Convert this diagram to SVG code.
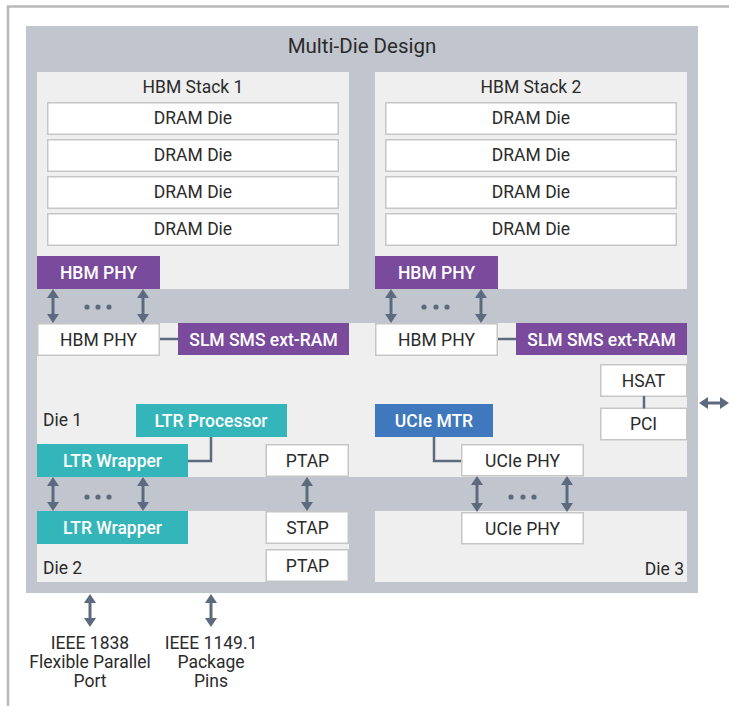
<svg xmlns="http://www.w3.org/2000/svg" width="729" height="706" viewBox="0 0 729 706">
  <style>
    text { font-family: Roboto, "Liberation Sans", sans-serif; fill: #2b2b2b; font-size: 17.5px; }
    .title { font-size: 20.5px; }
    .ctr { text-anchor: middle; }
    .inv { fill: #ffffff; font-weight: 500; text-anchor: middle; }
    .die { fill: #efefef; }
    .box { fill: #ffffff; stroke: #c6c6c6; stroke-width: 1.5; }
    .purple { fill: #7a4a9c; }
    .teal { fill: #33b5b9; }
    .blue { fill: #3f78bd; }
    .wire { fill: none; stroke: #5d6a7e; stroke-width: 2.5; }
    .arrow { fill: none; stroke: #5d6a7e; stroke-width: 3; marker-start: url(#head); marker-end: url(#head); }
    .dot { fill: #5d6a7e; }
  </style>
  <defs>
    <marker id="head" viewBox="0 0 9 12" refX="0" refY="6" markerWidth="9" markerHeight="12" markerUnits="userSpaceOnUse" orient="auto-start-reverse">
      <path d="M0,0 L9,6 L0,12 Z" fill="#5d6a7e"/>
    </marker>
  </defs>

  <rect width="729" height="706" fill="#ffffff"/>
  <!-- page frame -->
  <path d="M8,706 V6.5 H729" fill="none" stroke="#b9b9b9" stroke-width="2.5"/>

  <!-- package substrate -->
  <g id="multi-die-design">
    <rect x="26" y="26" width="672" height="567" fill="#c1c5cd"/>
    <text class="title ctr" x="362" y="53">Multi-Die Design</text>
  </g>

  <!-- HBM stack 1 -->
  <g id="hbm-stack-1">
    <rect class="die" x="37" y="72" width="312" height="217"/>
    <text class="ctr" x="193" y="93">HBM Stack 1</text>
    <rect class="box" x="47.75" y="102.75" width="290.5" height="31.5"/>
    <text class="ctr" x="193" y="124">DRAM Die</text>
    <rect class="box" x="47.75" y="139.75" width="290.5" height="31.5"/>
    <text class="ctr" x="193" y="161">DRAM Die</text>
    <rect class="box" x="47.75" y="176.75" width="290.5" height="31.5"/>
    <text class="ctr" x="193" y="198">DRAM Die</text>
    <rect class="box" x="47.75" y="213.75" width="290.5" height="31.5"/>
    <text class="ctr" x="193" y="235">DRAM Die</text>
    <rect class="purple" x="37" y="256" width="123" height="33"/>
    <text class="inv" x="98.5" y="278.5">HBM PHY</text>
  </g>

  <!-- HBM stack 2 -->
  <g id="hbm-stack-2">
    <rect class="die" x="375" y="72" width="312" height="217"/>
    <text class="ctr" x="531" y="93">HBM Stack 2</text>
    <rect class="box" x="385.75" y="102.75" width="290.5" height="31.5"/>
    <text class="ctr" x="531" y="124">DRAM Die</text>
    <rect class="box" x="385.75" y="139.75" width="290.5" height="31.5"/>
    <text class="ctr" x="531" y="161">DRAM Die</text>
    <rect class="box" x="385.75" y="176.75" width="290.5" height="31.5"/>
    <text class="ctr" x="531" y="198">DRAM Die</text>
    <rect class="box" x="385.75" y="213.75" width="290.5" height="31.5"/>
    <text class="ctr" x="531" y="235">DRAM Die</text>
    <rect class="purple" x="375" y="256" width="123" height="33"/>
    <text class="inv" x="436.5" y="278.5">HBM PHY</text>
  </g>

  <!-- Die 1 -->
  <g id="die-1">
    <rect class="die" x="37" y="323" width="650" height="154"/>
    <text x="43" y="426">Die 1</text>
  </g>
  <g id="die1-hbm-phy-1">
    <rect class="box" x="37.75" y="323.75" width="121.5" height="31.5"/>
    <text class="ctr" x="98.5" y="345.5">HBM PHY</text>
  </g>
  <g id="die1-slm-1">
    <rect class="purple" x="178" y="323" width="171" height="32"/>
    <text class="inv" x="263.5" y="345.5">SLM SMS ext-RAM</text>
  </g>
  <g id="die1-hbm-phy-2">
    <rect class="box" x="375.75" y="323.75" width="121.5" height="31.5"/>
    <text class="ctr" x="436.5" y="345.5">HBM PHY</text>
  </g>
  <g id="die1-slm-2">
    <rect class="purple" x="516" y="323" width="171" height="32"/>
    <text class="inv" x="601.5" y="345.5">SLM SMS ext-RAM</text>
  </g>
  <g id="hsat">
    <rect class="box" x="600.75" y="364.75" width="86" height="31.5"/>
    <text class="ctr" x="643.5" y="386.5">HSAT</text>
  </g>
  <g id="pci">
    <rect class="box" x="600.75" y="408.25" width="86" height="31.5"/>
    <text class="ctr" x="643.5" y="430">PCI</text>
  </g>
  <g id="ltr-processor">
    <rect class="teal" x="136" y="404" width="151" height="33"/>
    <text class="inv" x="211" y="426.5">LTR Processor</text>
  </g>
  <g id="ucie-mtr">
    <rect class="blue" x="375" y="404" width="118" height="33"/>
    <text class="inv" x="434" y="426.5">UCIe MTR</text>
  </g>
  <g id="ltr-wrapper-1">
    <rect class="teal" x="37" y="444" width="151" height="33"/>
    <text class="inv" x="112.5" y="466.5">LTR Wrapper</text>
  </g>
  <g id="ptap-1">
    <rect class="box" x="266.25" y="444.75" width="82" height="31.5"/>
    <text class="ctr" x="307.5" y="466.5">PTAP</text>
  </g>
  <g id="ucie-phy-1">
    <rect class="box" x="461.75" y="444.75" width="121.5" height="31"/>
    <text class="ctr" x="522.5" y="466.5">UCIe PHY</text>
  </g>

  <!-- Die 2 -->
  <g id="die-2">
    <rect class="die" x="37" y="511" width="312" height="71"/>
    <text x="43" y="574">Die 2</text>
  </g>
  <g id="ltr-wrapper-2">
    <rect class="teal" x="37" y="511" width="151" height="33"/>
    <text class="inv" x="112.5" y="533.5">LTR Wrapper</text>
  </g>
  <g id="stap">
    <rect class="box" x="266.25" y="511.75" width="82" height="31.5"/>
    <text class="ctr" x="307.5" y="533.5">STAP</text>
  </g>
  <g id="ptap-2">
    <rect class="box" x="266.25" y="549.75" width="82" height="31.5"/>
    <text class="ctr" x="307.5" y="571.5">PTAP</text>
  </g>

  <!-- Die 3 -->
  <g id="die-3">
    <rect class="die" x="375" y="511" width="312" height="71"/>
    <text x="684" y="575" text-anchor="end">Die 3</text>
  </g>
  <g id="ucie-phy-2">
    <rect class="box" x="461.75" y="512.75" width="121.5" height="31"/>
    <text class="ctr" x="522.5" y="534.5">UCIe PHY</text>
  </g>

  <!-- external interfaces -->
  <g id="ieee-1838">
    <text class="ctr" x="90" y="649">IEEE 1838</text>
    <text class="ctr" x="90" y="668">Flexible Parallel</text>
    <text class="ctr" x="90" y="687">Port</text>
  </g>
  <g id="ieee-1149">
    <text class="ctr" x="211" y="649">IEEE 1149.1</text>
    <text class="ctr" x="211" y="668">Package</text>
    <text class="ctr" x="211" y="687">Pins</text>
  </g>

  <g id="connectors">
    <path class="wire" d="M160,339 H178"/>
    <path class="wire" d="M498,339 H516"/>
    <path class="wire" d="M644,396 V408.5"/>
    <path class="wire" d="M211,437 V461 H188"/>
    <path class="wire" d="M434,437 V461 H461"/>

    <line class="arrow" x1="53" y1="298" x2="53" y2="314"/>
    <line class="arrow" x1="143" y1="298" x2="143" y2="314"/>
    <line class="arrow" x1="391" y1="298" x2="391" y2="314"/>
    <line class="arrow" x1="481" y1="298" x2="481" y2="314"/>
    <line class="arrow" x1="53" y1="486" x2="53" y2="502"/>
    <line class="arrow" x1="143" y1="486" x2="143" y2="502"/>
    <line class="arrow" x1="307" y1="486" x2="307" y2="502"/>
    <line class="arrow" x1="477" y1="485" x2="477" y2="503"/>
    <line class="arrow" x1="567" y1="485" x2="567" y2="503"/>
    <line class="arrow" x1="90" y1="603" x2="90" y2="618"/>
    <line class="arrow" x1="211" y1="603" x2="211" y2="618"/>
    <line class="arrow" x1="708" y1="403" x2="720" y2="403"/>

    <circle class="dot" cx="87" cy="307" r="2.6"/>
    <circle class="dot" cx="98" cy="307" r="2.6"/>
    <circle class="dot" cx="109" cy="307" r="2.6"/>
    <circle class="dot" cx="424" cy="307" r="2.6"/>
    <circle class="dot" cx="436" cy="307" r="2.6"/>
    <circle class="dot" cx="447" cy="307" r="2.6"/>
    <circle class="dot" cx="87" cy="497" r="2.6"/>
    <circle class="dot" cx="98" cy="497" r="2.6"/>
    <circle class="dot" cx="109" cy="497" r="2.6"/>
    <circle class="dot" cx="511" cy="497" r="2.6"/>
    <circle class="dot" cx="523" cy="497" r="2.6"/>
    <circle class="dot" cx="534" cy="497" r="2.6"/>
  </g>
</svg>
